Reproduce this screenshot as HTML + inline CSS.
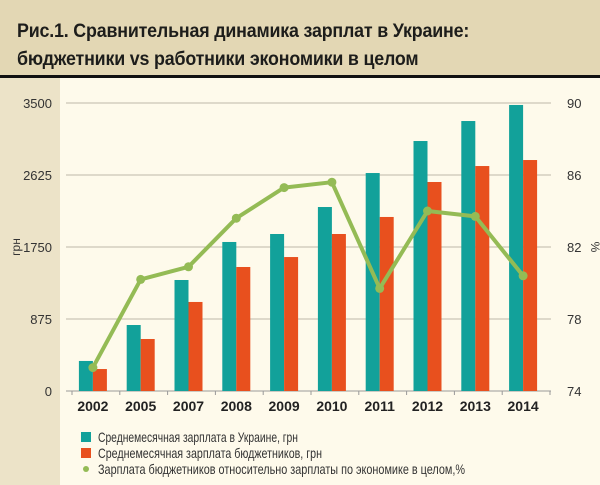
<!DOCTYPE html>
<html><head><meta charset="utf-8">
<style>
html,body{margin:0;padding:0;}
body{width:600px;height:485px;overflow:hidden;background:#fefaeb;font-family:"Liberation Sans","DejaVu Sans",sans-serif;position:relative;}
#hdr{position:absolute;left:0;top:0;width:600px;height:75px;background:#e3d7b4;}
#hdr div{position:absolute;left:17px;top:17px;font-weight:bold;font-size:19.5px;line-height:28px;color:#1d1d1b;letter-spacing:-0.2px;transform:scaleX(0.915);transform-origin:0 0;white-space:nowrap;}
#rule{position:absolute;left:0;top:75px;width:600px;height:3px;background:#111;}
#strip{position:absolute;left:0;top:78px;width:60px;height:407px;background:#ece3c8;}
svg{position:absolute;left:0;top:0;}
</style></head><body>
<div id="hdr"><div>Рис.1. Сравнительная динамика зарплат в Украине:<br>бюджетники vs работники экономики в целом</div></div>
<div id="rule"></div>
<div id="strip"></div>
<svg id="chart" width="600" height="485"></svg>
<script>
const categories=["2002","2005","2007","2008","2009","2010","2011","2012","2013","2014"];
const ukraineWage=[365,802,1349,1811,1908,2236,2649,3038,3281,3476];
const budgetWage=[267,632,1082,1507,1628,1908,2115,2540,2734,2807];
const ratioPct=[75.3,80.2,80.9,83.6,85.3,85.6,79.7,84.0,83.7,80.4];
const leftTicks=[0,875,1750,2625,3500];
const rightTicks=[74,78,82,86,90];
const NS="http://www.w3.org/2000/svg";
const svg=document.getElementById('chart');
const y0=391,y1=103,plotL=72,band=47.8;
function yL(v){return y0-(v/3500)*(y0-y1);}
function yR(v){return y0-((v-74)/16)*(y0-y1);}
function xC(i){return plotL+band*(i+0.5);}
function mk(t,a,txt){const e=document.createElementNS(NS,t);for(const k in a)e.setAttribute(k,a[k]);if(txt!==undefined)e.textContent=txt;svg.appendChild(e);return e;}
leftTicks.forEach((t,i)=>{
 let g=mk('line',{x1:66,x2:551,y1:yL(t),y2:yL(t),stroke:i==0?'#999':'#bdb8aa','stroke-width':1});
 
 
 let l=mk('text',{x:52,y:yL(t)+5,'text-anchor':'end','font-size':13,fill:'#333'},t);
 
 
});
rightTicks.forEach(t=>{
 let l=mk('text',{x:567,y:yR(t)+5,'text-anchor':'start','font-size':13,fill:'#333'},t);
 
 
});
for(let i=0;i<=categories.length;i++){
 let tk=mk('line',{x1:plotL+band*i,x2:plotL+band*i,y1:y0,y2:y0+4,stroke:'#999'});
 
 
}
categories.forEach((c,i)=>{
 let a=mk('rect',{x:xC(i)-17,y:yL(ukraineWage[i]),width:14,height:y0-yL(ukraineWage[i]),fill:'#12a19a'});
 
 
 let b=mk('rect',{x:xC(i)-3,y:yL(budgetWage[i]),width:14,height:y0-yL(budgetWage[i]),fill:'#e8501e'});
 
 
 let l=mk('text',{x:xC(i)-3,y:411,'text-anchor':'middle','font-size':14,'font-weight':'bold',fill:'#222'},c);
 
 
});
let pts=ratioPct.map((v,i)=>(xC(i)-3)+','+yR(v)).join(' ');
let pl=mk('polyline',{points:pts,fill:'none',stroke:'#94bb55','stroke-width':4,'stroke-linejoin':'round'});


ratioPct.forEach((v,i)=>{
 let c=mk('circle',{cx:xC(i)-3,cy:yR(v),r:4.5,fill:'#94bb55'});
 
 
});
let yt=mk('text',{x:0,y:0,'font-size':12,fill:'#333','text-anchor':'middle',transform:'translate(20,247) rotate(-90)'},'грн');


let yt2=mk('text',{x:0,y:0,'font-size':12,fill:'#333','text-anchor':'middle',transform:'translate(591,247) rotate(90)'},'%');


const leg=[['#12a19a','Среднемесячная зарплата в Украине, грн','rect',200],['#e8501e','Среднемесячная зарплата бюджетников, грн','rect',224],['#94bb55','Зарплата бюджетников относительно зарплаты по экономике в целом,%','dot',367]];
leg.forEach((L,i)=>{
 const y=442+i*16;
 let m;
 if(L[2]=='rect'){m=mk('rect',{x:81,y:y-10,width:10,height:10,fill:L[0]});}
 else{m=mk('circle',{cx:86,cy:y-5,r:3,fill:L[0]});}
 
 
 let t=mk('text',{x:98,y:y,'font-size':14,fill:'#333',textLength:L[3],lengthAdjust:'spacingAndGlyphs'},L[1]);
 
 
});
</script>
</body></html>
